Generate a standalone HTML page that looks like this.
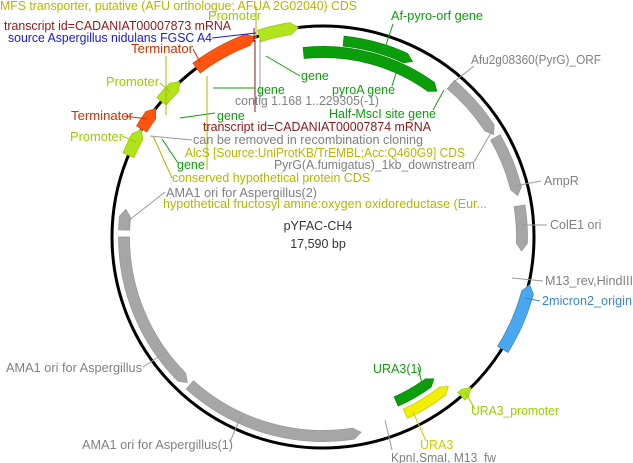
<!DOCTYPE html>
<html><head><meta charset="utf-8">
<style>
html,body{margin:0;padding:0;background:#fff;}
svg{display:block;font-family:"Liberation Sans",sans-serif;font-size:12.5px;}
</style></head>
<body>
<svg id="s" width="633" height="463" viewBox="0 0 633 463" xmlns="http://www.w3.org/2000/svg">
<circle cx="323" cy="237" r="211" fill="none" stroke="#000" stroke-width="3"/>
<g id="feat"></g>
<g stroke-width="1" fill="none">
<line x1="256" y1="6" x2="256" y2="38" stroke="#b5b500"/>
<line x1="254" y1="28" x2="254" y2="42" stroke="#8b1a1a"/>
<line x1="212" y1="38" x2="256" y2="33" stroke="#1a1acc"/>
<line x1="193" y1="49" x2="200" y2="62" stroke="#cc3300"/>
<line x1="255" y1="40" x2="255" y2="112" stroke="#8b1a1a"/>
<line x1="260" y1="40" x2="260" y2="100" stroke="#999"/>
<line x1="266" y1="56" x2="300" y2="76" stroke="#129912"/>
<line x1="213" y1="88" x2="255" y2="88" stroke="#129912"/>
<line x1="160" y1="83" x2="170" y2="92" stroke="#99cc00"/>
<line x1="180" y1="118" x2="215" y2="113" stroke="#129912"/>
<line x1="124" y1="116" x2="147" y2="119" stroke="#cc3300"/>
<line x1="122" y1="136" x2="136" y2="142" stroke="#99cc00"/>
<line x1="150" y1="136" x2="192" y2="140" stroke="#999"/>
<line x1="166" y1="56" x2="166" y2="115" stroke="#b5b500"/>
<line x1="207" y1="76" x2="207" y2="170" stroke="#b5b500"/>
<line x1="153" y1="136" x2="172" y2="178" stroke="#b5b500"/>
<line x1="162" y1="139" x2="178" y2="163" stroke="#129912"/>
<line x1="165" y1="192" x2="128" y2="221" stroke="#999"/>
<line x1="393" y1="24" x2="385" y2="48" stroke="#129912"/>
<line x1="398" y1="67" x2="392" y2="86" stroke="#129912"/>
<line x1="433" y1="110" x2="444" y2="90" stroke="#129912"/>
<line x1="474" y1="66" x2="450" y2="85" stroke="#999"/>
<line x1="474" y1="162" x2="492" y2="131" stroke="#999"/>
<line x1="541" y1="181" x2="515" y2="186" stroke="#999"/>
<line x1="547" y1="225" x2="521" y2="225" stroke="#999"/>
<line x1="543" y1="281" x2="512" y2="278" stroke="#999"/>
<line x1="540" y1="301" x2="525" y2="298" stroke="#3b87c8"/>
<line x1="418" y1="367" x2="423" y2="388" stroke="#129912"/>
<line x1="475" y1="409" x2="465" y2="392" stroke="#99cc00"/>
<line x1="426" y1="441" x2="413" y2="412" stroke="#cccc00"/>
<line x1="392" y1="450" x2="385" y2="420" stroke="#999"/>
<line x1="143" y1="367" x2="166" y2="352" stroke="#999"/>
<line x1="230" y1="442" x2="241" y2="416" stroke="#999"/>
</g>
<g>
<text x="0" y="10" fill="#b5b500" textLength="357" lengthAdjust="spacingAndGlyphs">MFS transporter, putative (AFU orthologue; AFUA 2G02040) CDS</text>
<text x="208" y="20" fill="#99cc00" textLength="53" lengthAdjust="spacingAndGlyphs">Promoter</text>
<text x="4" y="30" fill="#8b1a1a" textLength="227" lengthAdjust="spacingAndGlyphs">transcript id=CADANIAT00007873 mRNA</text>
<text x="8" y="42" fill="#1a1acc" textLength="204" lengthAdjust="spacingAndGlyphs">source Aspergillus nidulans FGSC A4</text>
<text x="131" y="53" fill="#cc3300" textLength="62" lengthAdjust="spacingAndGlyphs">Terminator</text>
<text x="391" y="20" fill="#129912" textLength="92" lengthAdjust="spacingAndGlyphs">Af-pyro-orf gene</text>
<text x="471" y="64" fill="#808080" textLength="130" lengthAdjust="spacingAndGlyphs">Afu2g08360(PyrG)_ORF</text>
<text x="301" y="80" fill="#129912">gene</text>
<text x="106" y="86" fill="#99cc00" textLength="53" lengthAdjust="spacingAndGlyphs">Promoter</text>
<text x="257" y="94" fill="#129912">gene</text>
<text x="332" y="94" fill="#129912" textLength="63" lengthAdjust="spacingAndGlyphs">pyroA gene</text>
<text x="235" y="105" fill="#808080" textLength="144" lengthAdjust="spacingAndGlyphs">contig 1.168 1..229305(-1)</text>
<text x="329" y="118" fill="#129912" textLength="107" lengthAdjust="spacingAndGlyphs">Half-MscI site gene</text>
<text x="71" y="120" fill="#cc3300" textLength="62" lengthAdjust="spacingAndGlyphs">Terminator</text>
<text x="217" y="120" fill="#129912">gene</text>
<text x="203" y="131" fill="#8b1a1a" textLength="228" lengthAdjust="spacingAndGlyphs">transcript id=CADANIAT00007874 mRNA</text>
<text x="70" y="141" fill="#99cc00" textLength="53" lengthAdjust="spacingAndGlyphs">Promoter</text>
<text x="193" y="144" fill="#808080" textLength="230" lengthAdjust="spacingAndGlyphs">can be removed in recombination cloning</text>
<text x="185" y="157" fill="#b5b500" textLength="280" lengthAdjust="spacingAndGlyphs">AlcS [Source:UniProtKB/TrEMBL;Acc:Q460G9] CDS</text>
<text x="274" y="169" fill="#808080" textLength="201" lengthAdjust="spacingAndGlyphs">PyrG(A.fumigatus)_1kb_downstream</text>
<text x="177" y="169" fill="#129912">gene</text>
<text x="172" y="182" fill="#b5b500" textLength="198" lengthAdjust="spacingAndGlyphs">conserved hypothetical protein CDS</text>
<text x="166" y="197" fill="#808080" textLength="151" lengthAdjust="spacingAndGlyphs">AMA1 ori for Aspergillus(2)</text>
<text x="163" y="208" fill="#b5b500" textLength="324" lengthAdjust="spacingAndGlyphs">hypothetical fructosyl amine:oxygen oxidoreductase (Eur...</text>
<text x="544" y="185" fill="#808080">AmpR</text>
<text x="550" y="229" fill="#808080">ColE1 ori</text>
<text x="318" y="230" fill="#333" text-anchor="middle">pYFAC-CH4</text>
<text x="318" y="248" fill="#333" text-anchor="middle">17,590 bp</text>
<text x="545" y="285" fill="#808080" textLength="88" lengthAdjust="spacingAndGlyphs">M13_rev,HindIII</text>
<text x="542" y="305" fill="#3b87c8" textLength="90" lengthAdjust="spacingAndGlyphs">2micron2_origin</text>
<text x="373" y="373" fill="#129912">URA3(1)</text>
<text x="471" y="415" fill="#99cc00" textLength="88" lengthAdjust="spacingAndGlyphs">URA3_promoter</text>
<text x="420" y="449" fill="#cccc00">URA3</text>
<text x="391" y="462" fill="#808080" textLength="105" lengthAdjust="spacingAndGlyphs">KpnI,SmaI, M13_fw</text>
<text x="6" y="372" fill="#808080" textLength="136" lengthAdjust="spacingAndGlyphs">AMA1 ori for Aspergillus</text>
<text x="82" y="449" fill="#808080" textLength="151" lengthAdjust="spacingAndGlyphs">AMA1 ori for Aspergillus(1)</text>
</g>
</svg>
<script>
var cx=323,cy=237,g=document.getElementById('feat');
function P(a,r){a=a*Math.PI/180;return (cx+r*Math.sin(a)).toFixed(1)+','+(cy-r*Math.cos(a)).toFixed(1);}
function F(a1,a2,r,w,fill,stroke,dir){
 var ro=r+w/2,ri=r-w/2,tip=2.2,d;
 var s=a1,e=a2;
 if(dir>0){e=a2-tip;}else if(dir<0){s=a1+tip;}
 var large=(e-s)>180?1:0;
 d='M'+P(s,ro)+' A'+ro+','+ro+' 0 '+large+' 1 '+P(e,ro);
 if(dir>0)d+=' L'+P(a2,r);
 d+=' L'+P(e,ri)+' A'+ri+','+ri+' 0 '+large+' 0 '+P(s,ri);
 if(dir<0)d+=' L'+P(a1,r);
 d+='Z';
 var p=document.createElementNS('http://www.w3.org/2000/svg','path');
 p.setAttribute('d',d);p.setAttribute('fill',fill);p.setAttribute('stroke',stroke);p.setAttribute('stroke-width','0.8');
 g.appendChild(p);
}
var gr='#a6a6a6',gs='#999';
F(40,59,199,11,gr,gs,1);
F(60,78,199,11,gr,gs,1);
F(81,94,199,11,gr,gs,1);
F(169,222,199,11,gr,gs,-1);
F(223,270,199,11,gr,gs,-1);
F(272,278,199,11,gr,gs,1);
F(103,122,212,12,'#4aa8f0','#3b87c8',-1);
F(135.5,139,211,10,'#b2e41e','#99cc00',-1);
F(140,155,195,10,'#f0f000','#cccc00',-1);
F(142,156,180,10,'#0a9e0a','#088a08',-1);
F(6,27,197,10,'#0a9e0a','#088a08',1);
F(-6,38,185,11,'#0a9e0a','#088a08',1);
F(-17.6,-6.7,211,12,'#b2e41e','#99cc00',1);
F(-36.8,-18.7,211,12,'#ff5511','#e04400',1);
F(-50,-42.7,211,12,'#b2e41e','#99cc00',1);
F(-59.2,-52.5,211,12,'#ff5511','#e04400',1);
F(-67.2,-59.4,211,12,'#b2e41e','#99cc00',1);
</script>
</body></html>
